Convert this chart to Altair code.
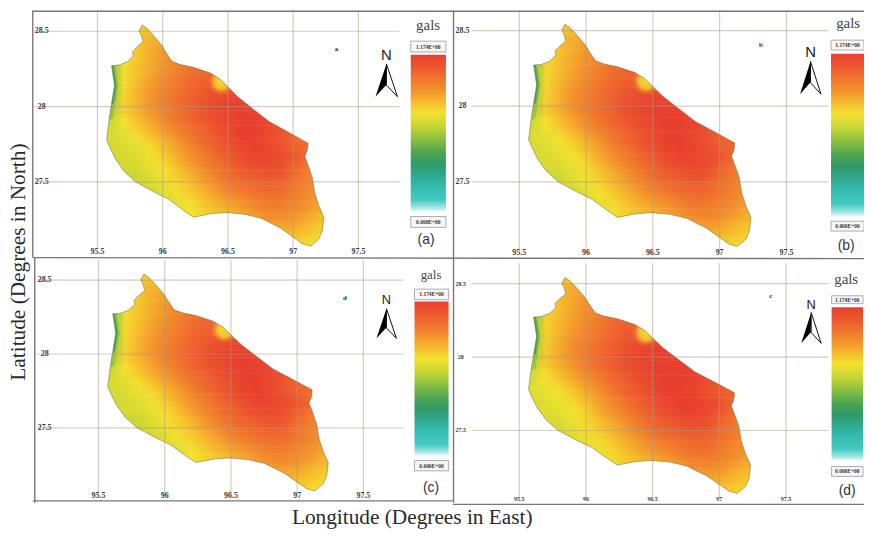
import altair as alt

# District outline (degrees)
OUT_LON = [95.843,95.881,95.932,95.995,96.033,96.071,96.134,96.235,96.362,96.438,96.501,96.577,96.704,96.818,96.957,97.114,97.109,97.089,97.122,97.147,97.165,97.197,97.235,97.223,97.197,97.134,97.071,97.008,96.906,96.754,96.628,96.489,96.375,96.235,96.147,96.046,95.919,95.792,95.704,95.641,95.603,95.570,95.590,95.610,95.630,95.608,95.666,95.729,95.775,95.767,95.813,95.848,95.838,95.818]
OUT_LAT = [28.542,28.518,28.469,28.404,28.349,28.300,28.279,28.261,28.224,28.184,28.129,28.064,27.976,27.899,27.833,27.757,27.713,27.669,27.592,27.526,27.428,27.340,27.263,27.175,27.121,27.072,27.088,27.127,27.191,27.259,27.285,27.296,27.289,27.265,27.318,27.384,27.439,27.500,27.570,27.647,27.713,27.779,27.921,28.031,28.140,28.272,28.276,28.298,28.338,28.364,28.404,28.430,28.469,28.502]

# Ground acceleration as percent of 1.174 gals, read per row (lat) and column (lon)
FIELD_LON = [95.5,95.6,95.7,95.8,95.9,96.0,96.1,96.2,96.3,96.4,96.5,96.6,96.7,96.8,96.9,97.0,97.1,97.2,97.3]
FIELD_LAT = [28.55,28.50,28.45,28.40,28.35,28.30,28.25,28.20,28.15,28.10,28.05,28.00,27.95,27.90,27.85,27.80,27.75,27.70,27.65,27.60,27.55,27.50,27.45,27.40,27.35,27.30,27.25,27.20,27.15,27.10,27.05]
FIELD = [
[66,66,66,66,68,70,72,74,76,78,80,80,80,80,80,80,80,80,80],
[66,66,66,67,69,71,73,75,77,79,80,80,80,80,80,80,80,80,80],
[66,66,66,68,71,73,75,77,79,80,80,80,80,80,80,80,80,80,80],
[64,64,64,69,72,75,78,80,82,82,82,82,82,82,82,82,82,82,82],
[60,60,62,68,72,76,79,82,84,84,84,84,84,84,84,84,84,84,84],
[50,50,64,68,73,77,80,83,85,86,86,86,86,86,86,86,86,86,86],
[42,42,64,69,73,77,81,85,87,87,88,88,88,88,88,88,88,88,88],
[42,42,64,69,74,78,82,86,88,89,89,90,90,90,90,90,90,90,90],
[43,43,64,70,75,79,83,87,90,91,92,92,92,92,92,92,92,92,92],
[44,44,65,71,76,80,84,88,91,94,95,95,95,95,95,95,95,95,95],
[45,45,65,71,77,81,85,89,92,95,97,98,98,97,97,97,97,97,97],
[48,48,66,72,77,82,86,90,94,97,100,100,98,96,95,95,95,95,95],
[52,52,66,71,76,81,85,89,93,96,99,100,99,96,94,94,94,94,94],
[55,55,63,69,74,79,84,88,92,95,98,100,100,97,94,92,92,92,92],
[57,57,62,67,72,77,82,86,90,94,97,100,100,98,95,92,90,90,90],
[58,58,60,64,69,74,79,84,88,92,96,100,100,97,93,90,88,88,88],
[57,57,59,62,66,71,76,82,87,91,95,99,100,97,93,89,87,87,87],
[57,57,58,60,64,69,74,79,84,89,93,97,100,98,95,91,87,87,87],
[57,57,57,59,62,66,72,77,82,87,91,95,99,98,96,93,88,85,85],
[57,57,57,58,61,64,70,75,80,85,89,93,96,97,95,90,85,80,80],
[55,55,55,56,59,63,67,72,77,82,87,90,92,94,93,88,83,79,79],
[55,55,55,55,58,62,66,70,75,80,85,88,90,92,91,86,82,78,78],
[55,55,55,55,57,60,64,68,72,77,82,85,87,89,88,85,81,77,77],
[55,55,55,55,56,59,62,66,70,74,78,81,84,86,86,83,80,76,76],
[55,55,55,55,56,58,60,64,68,72,75,78,81,84,84,81,78,75,75],
[55,55,55,55,56,58,60,63,66,69,72,75,78,81,81,79,77,73,73],
[55,55,55,55,56,58,60,62,65,68,70,72,75,78,79,77,74,71,71],
[60,60,60,60,60,60,60,62,65,68,70,72,73,74,75,74,71,68,68],
[60,60,60,60,60,60,60,62,65,68,70,71,71,72,72,71,69,66,66],
[60,60,60,60,60,60,60,62,65,66,68,68,68,68,68,68,66,64,64],
[60,60,60,60,60,60,60,62,64,66,66,66,66,66,66,66,64,62,62],
]

# Colour bar read from the legends: value percent -> colour
RAMP_PCT = [0,3,8,16,24,31,38,47,55,63,70,78,85,93,100]
RAMP_HEX = ["#ffffff","#a8e6e4","#45c9c4","#35bdb0","#2fa88c","#2f9a68","#4fa552","#8fc23f","#c9d634","#f3e22f","#f6bc2c","#f2902c","#f0742d","#ec552e","#e8402f"]

TICK_LON = [95.5,96.0,96.5,97.0,97.5]
TICK_LON_TXT = ["95.5","96","96.5","97","97.5"]
TICK_LAT = [28.5,28.0,27.5]
TICK_LAT_TXT = ["28.5","28","27.5"]
MAX_LABEL = "1.174E+00"
MIN_LABEL = "0.000E+00"

# page-pixel calibration of each panel
PANELS = [
 dict(x=(98.3,361.7),y=(181,29),grid_x=(35,403),grid_y=(8,248),lon_y=252,lat_x=42,tick=8,
      letter="a",lx=339.5,ly=47,tag="(a)",tx=430,ty=240,tag_size=14,gals=(432,23,15),
      bar=(414.5,450,52.7,212),top=(39,50),bot=(216,227),n=(390,53,15),arrow=(390,78.5,33,22),shift=0),
 dict(x=(524,793.7),y=(181,28.3),grid_x=(476,836),grid_y=(8,251),lon_y=253,lat_x=466.7,tick=8,
      letter="b",lx=768,ly=43,tag="(b)",tx=854,ty=246,tag_size=14,gals=(856,21,15),
      bar=(838.7,872,51.7,216.7),top=(38,48),bot=(220.7,230.7),n=(818,50,15),arrow=(818,76,33,21),shift=1),
 dict(x=(99.3,366.7),y=(429.3,280.3),grid_x=(37,407),grid_y=(260,497),lon_y=498,lat_x=45,tick=8,
      letter="d",lx=348,ly=298,tag="(c)",tx=435,ty=490,tag_size=14,gals=(435,275,13),
      bar=(418.3,452.7,301.7,458.3),top=(289.3,300),bot=(462.3,472.7),n=(390,300,13),arrow=(390,324,30,20),shift=0),
 dict(x=(524,793.3),y=(432,283.7),grid_x=(476,836),grid_y=(263,500),lon_y=500.7,lat_x=465,tick=6,
      letter="c",lx=778,ly=296,tag="(d)",tx=855,ty=493,tag_size=14,gals=(854,279,15),
      bar=(839.3,871,307.7,463.3),top=(296,304),bot=(468.3,478.3),n=(818.7,305,13),arrow=(818.7,328.5,31,20),shift=2),
]
OX, OY = 8, 8


def hex2rgb(h):
    return [int(h[i:i+2], 16) for i in (1, 3, 5)]


def colour(p):
    p = max(0, min(100, p))
    for i in range(len(RAMP_PCT) - 1):
        a, b = RAMP_PCT[i], RAMP_PCT[i + 1]
        if a <= p <= b:
            t = (p - a) / (b - a)
            ca, cb = hex2rgb(RAMP_HEX[i]), hex2rgb(RAMP_HEX[i + 1])
            return "#%02x%02x%02x" % tuple(round(u + (v - u) * t) for u, v in zip(ca, cb))
    return RAMP_HEX[-1]


def val(v):
    return alt.value(v)


def rect_px(x, x2, y, y2, **kw):
    return alt.Chart(DUMMY).mark_rect(**kw).encode(x=val(x - OX), x2=val(x2 - OX), y=val(y - OY), y2=val(y2 - OY))


def text_px(s, x, y, **kw):
    return alt.Chart(DUMMY).mark_text(text=s, **kw).encode(x=val(x - OX), y=val(y - OY))


DUMMY = alt.Data(values=[{"i": 0}])


def panel(p):
    sx = alt.Scale(domain=[95.5, 97.5], range=[p["x"][0] - OX, p["x"][1] - OX], zero=False, nice=False)
    sy = alt.Scale(domain=[27.5, 28.5], range=[p["y"][0] - OY, p["y"][1] - OY], zero=False, nice=False)
    X = alt.X("lon:Q", scale=sx, axis=None)
    Y = alt.Y("lat:Q", scale=sy, axis=None)
    layers = []
    # heat field: one gradient band per latitude row, then the same bands half a row up at half strength
    for off, op in ((0.0, 1.0), (0.025, 0.5)):
        for lat, row in zip(FIELD_LAT, FIELD):
            stops = [{"offset": i / (len(row) - 1), "color": colour(v + p["shift"])} for i, v in enumerate(row)]
            layers.append(
                alt.Chart(alt.Data(values=[{"lon": FIELD_LON[0], "lon2": FIELD_LON[-1], "lat": lat + off + 0.026, "lat2": lat + off - 0.026}]))
                .mark_rect(opacity=op, color={"gradient": "linear", "x1": 0, "y1": 0, "x2": 1, "y2": 0, "stops": stops})
                .encode(x=X, x2="lon2:Q", y=Y, y2="lat2:Q")
            )
    # pale patch on the northern border
    layers.append(
        alt.Chart(alt.Data(values=[{"lon": 96.34, "lon2": 96.56, "lat": 28.25, "lat2": 28.08}]))
        .mark_rect(color={"gradient": "radial", "x1": 0.5, "y1": 0.5, "x2": 0.5, "y2": 0.5, "r1": 0, "r2": 0.5,
                          "stops": [{"offset": 0, "color": "#f3dc30"}, {"offset": 0.5, "color": "#f6bc2d"},
                                    {"offset": 1, "color": "rgba(238,100,46,0)"}]})
        .encode(x=X, x2="lon2:Q", y=Y, y2="lat2:Q")
    )
    # green western edge, tapering to the south
    edge = [(95.608, 28.272), (95.63, 28.14), (95.61, 28.03), (95.597, 27.94), (95.585, 27.86)]
    for n, w, col, op in [(5, 13, "#cfd934", 0.45), (4, 8, "#86bb40", 0.65), (3, 4.5, "#3f9d55", 0.8)]:
        layers.append(alt.Chart(alt.Data(values=[{"lon": a, "lat": b, "i": i} for i, (a, b) in enumerate(edge[:n])]))
                      .mark_line(strokeWidth=w, color=col, opacity=op, strokeCap="round")
                      .encode(x=X, y=Y, order="i:Q"))
    # white mask: everything but the district
    ring = [(95.45, 28.62), (95.45, 27.0), (97.35, 27.0), (97.35, 28.62), (95.45, 28.62)]
    ring += list(zip(OUT_LON, OUT_LAT)) + [(OUT_LON[0], OUT_LAT[0]), (95.45, 28.62)]
    layers.append(alt.Chart(alt.Data(values=[{"lon": a, "lat": b, "i": i} for i, (a, b) in enumerate(ring)]))
                  .mark_line(fill="white", strokeOpacity=0, strokeWidth=0)
                  .encode(x=X, y=Y, order="i:Q"))
    # graticule
    gx = alt.Chart(alt.Data(values=[{"lon": v} for v in TICK_LON])).mark_rule(color="#b09a80", opacity=0.5, strokeWidth=1.2).encode(
        x=X, y=val(p["grid_y"][0] - OY), y2=val(p["grid_y"][1] - OY))
    gy = alt.Chart(alt.Data(values=[{"lat": v} for v in TICK_LAT])).mark_rule(color="#b09a80", opacity=0.5, strokeWidth=1.2).encode(
        y=Y, x=val(p["grid_x"][0] - OX), x2=val(p["grid_x"][1] - OX))
    layers += [gx, gy]
    # outline
    outline = [{"lon": a, "lat": b, "i": i} for i, (a, b) in enumerate(zip(OUT_LON + OUT_LON[:1], OUT_LAT + OUT_LAT[:1]))]
    layers.append(alt.Chart(alt.Data(values=outline)).mark_line(color="#5f6238", strokeWidth=0.6, opacity=0.8)
                  .encode(x=X, y=Y, order="i:Q"))
    # tick labels
    tick_font = dict(font="Liberation Serif", fontWeight="bold", fontSize=p["tick"], color="#3a3a3a")
    layers.append(alt.Chart(alt.Data(values=[{"lon": v, "t": t} for v, t in zip(TICK_LON, TICK_LON_TXT)]))
                  .mark_text(**tick_font).encode(x=X, y=val(p["lon_y"] - OY), text="t:N"))
    layers.append(alt.Chart(alt.Data(values=[{"lat": v, "t": t} for v, t in zip(TICK_LAT, TICK_LAT_TXT)]))
                  .mark_text(**tick_font).encode(y=Y, x=val(p["lat_x"] - OX), text="t:N"))
    # colour bar with its two value boxes
    bx0, bx1, by0, by1 = p["bar"]
    stops = [{"offset": 1 - v / 100, "color": c} for v, c in zip(RAMP_PCT[::-1], RAMP_HEX[::-1])]
    layers.append(rect_px(bx0, bx1, by0, by1, color={"gradient": "linear", "x1": 0, "y1": 0, "x2": 0, "y2": 1, "stops": stops}))
    for (t0, t1), label in ((p["top"], MAX_LABEL), (p["bot"], MIN_LABEL)):
        layers.append(rect_px(bx0, bx1, t0, t1, fill="#f6f6f6", stroke="#9a9a9a", strokeWidth=0.8))
        layers.append(text_px(label, (bx0 + bx1) / 2, (t0 + t1) / 2, font="Liberation Serif", fontWeight="bold", fontSize=5.5, color="#333333"))
    gx_, gy_, gs = p["gals"]
    layers.append(text_px("gals", gx_, gy_, font="Liberation Serif", fontSize=gs, color="#444444"))
    layers.append(text_px(p["tag"], p["tx"], p["ty"], font="Liberation Sans", fontSize=p["tag_size"], color="#333333"))
    layers.append(text_px(p["letter"], p["lx"], p["ly"], font="Liberation Serif", fontWeight="bold", fontSize=7, color="#333333"))
    # north arrow
    nx, ny, ns = p["n"]
    layers.append(text_px("N", nx, ny, font="Liberation Sans", fontSize=ns, color="#222222"))
    ax, ay, ah, aw = p["arrow"]
    size = ah * ah
    scale_x = aw / ah
    layers.append(alt.Chart(DUMMY).mark_point(shape=f"M0,-1 L{-scale_x:.2f},1 L-0.03,0.3 Z", size=size, filled=True, color="#000000", opacity=1)
                  .encode(x=val(ax - OX), y=val(ay - OY)))
    layers.append(alt.Chart(DUMMY).mark_point(shape=f"M0,-1 L{scale_x:.2f},1 L0,0.3 Z", size=size, filled=True, fill="#ffffff", stroke="#111111", strokeWidth=1, opacity=1)
                  .encode(x=val(ax - OX), y=val(ay - OY)))
    return alt.layer(*layers)


frames = []
FRAME = "#777777"
for x0, x1, y0, y1 in [
    (33, 872, 8.8, 8.8), (33, 33, 8, 257), (457.7, 457.7, 8, 505), (33, 872, 257.5, 258.5),
    (35, 35, 258, 505), (33, 457, 503, 503), (457, 872, 506.5, 506.5),
]:
    frames.append(alt.Chart(DUMMY).mark_rule(color=FRAME, strokeWidth=1.4).encode(
        x=val(x0 - OX), x2=val(x1 - OX), y=val(y0 - OY), y2=val(y1 - OY)))

titles = [
    text_px("Latitude (Degrees in North)", 19, 262, angle=270, font="Liberation Serif", fontSize=21.5, color="#2a2a2a"),
    text_px("Longitude (Degrees in East)", 416, 520, font="Liberation Serif", fontSize=21.5, color="#2a2a2a"),
]

chart = (
    alt.layer(*[panel(p) for p in PANELS], *frames, *titles)
    .resolve_scale(x="independent", y="independent")
    .properties(width=864, height=526, padding=0, autosize=alt.AutoSizeParams(type="none"), background="white")
    .configure_view(stroke=None)
)
chart.save("out.html", embed_options={"renderer": "svg", "actions": False})
